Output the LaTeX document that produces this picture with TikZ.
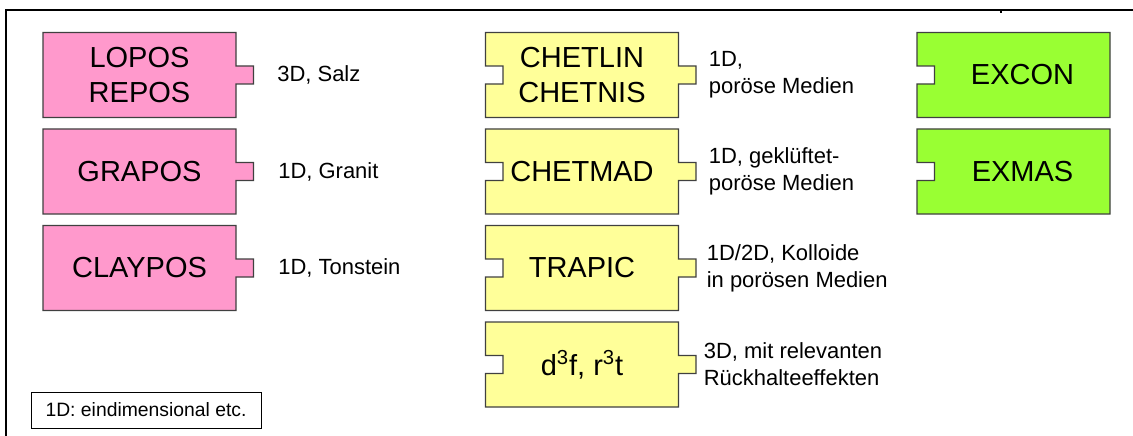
\documentclass[tikz,border=0pt]{standalone}
\usepackage{fontspec}
\setmainfont{Liberation Sans}
\usetikzlibrary{positioning,backgrounds}
\definecolor{pinkfill}{HTML}{FF99CC}
\definecolor{yellowfill}{HTML}{FFFF99}
\definecolor{greenfill}{HTML}{99FF33}
\newcommand{\tabw}{0.35}
\newcommand{\tabh}{0.18cm}

\begin{document}
\begin{tikzpicture}[
    node distance=0.23cm,
    codebox/.style={rectangle, minimum width=3.86cm, minimum height=1.7cm, inner sep=0pt, outer sep=0pt, align=center, font=\fontsize{16.5}{20}\selectfont},
    desc/.style={inner sep=0pt, align=left, font=\fontsize{12.5}{15.3}\selectfont},
    piece/.style={draw=black!75, line width=0.8pt, line join=miter},
    frame/.style={line width=1.2pt}
]
\useasboundingbox (0,0) rectangle (22.66,-8.72);

% pink column
\node[codebox] (lopos) at (2.79,-1.5) {LOPOS\\REPOS};
\node[codebox, below=of lopos] (grapos) {GRAPOS};
\node[codebox, below=of grapos] (claypos) {CLAYPOS};

% yellow column
\node[codebox] (chetlin) at (11.64,-1.5) {CHETLIN\\CHETNIS};
\node[codebox, below=of chetlin] (chetmad) {CHETMAD};
\node[codebox, below=of chetmad] (trapic) {TRAPIC};
\node[codebox, below=of trapic] (dfrt) {d\textsuperscript{3}f, r\textsuperscript{3}t};

% green column
\node[codebox] (excon) at (20.27,-1.5) {\hspace*{0.36cm}EXCON};
\node[codebox, below=of excon] (exmas) {\hspace*{0.36cm}EXMAS};

% descriptions
\node[desc, right=0.82cm of lopos] (salz) {3D, Salz};
\node[desc, right=0.84cm of grapos] (granit) {1D, Granit};
\node[desc, right=0.84cm of claypos] (tonstein) {1D, Tonstein};
\node[desc, right=0.6cm of chetlin] (poroes) {1D,\\poröse Medien};
\node[desc, right=0.6cm of chetmad] (kluft) {1D, geklüftet-\\poröse Medien};
\node[desc, right=0.56cm of trapic] (kolloid) {1D/2D, Kolloide\\in porösen Medien};
\node[desc, right=0.5cm of dfrt] (rueck) {3D, mit relevanten\\Rückhalteeffekten};

\node[draw, line width=0.5pt, minimum width=4.6cm, minimum height=0.72cm, inner sep=0pt,
      font=\fontsize{11}{13}\selectfont] (legend) at (2.92,-8.2) {1D: eindimensional etc.};

\begin{scope}[on background layer]
  \foreach \n in {lopos,grapos,claypos}
    \draw[piece, fill=pinkfill] (\n.north west) -- (\n.north east)
      -- ([yshift=\tabh]\n.east) -- ++(\tabw,0) -- ++(0,-0.36) -- ([yshift=-\tabh]\n.east)
      -- (\n.south east) -- (\n.south west) -- cycle;
  \foreach \n in {chetlin,chetmad,trapic,dfrt}
    \draw[piece, fill=yellowfill] (\n.north west) -- (\n.north east)
      -- ([yshift=\tabh]\n.east) -- ++(\tabw,0) -- ++(0,-0.36) -- ([yshift=-\tabh]\n.east)
      -- (\n.south east) -- (\n.south west)
      -- ([yshift=-\tabh]\n.west) -- ++(\tabw,0) -- ++(0,0.36) -- ([yshift=\tabh]\n.west) -- cycle;
  \foreach \n in {excon,exmas}
    \draw[piece, fill=greenfill] (\n.north west) -- (\n.north east)
      -- (\n.south east) -- (\n.south west)
      -- ([yshift=-\tabh]\n.west) -- ++(\tabw,0) -- ++(0,0.36) -- ([yshift=\tabh]\n.west) -- cycle;
\end{scope}

% outer frame
\coordinate (corner) at (0.12,-0.2);
\coordinate (topend) at (22.66,-0.2);
\coordinate (leftend) at (0.12,-8.72);
\coordinate (tick) at (20.02,-0.2);
\draw[frame] (topend) -- (corner) -- (leftend);
\draw[line width=0.8pt] (tick) -- ++(0,-0.07);
\end{tikzpicture}
\end{document}
